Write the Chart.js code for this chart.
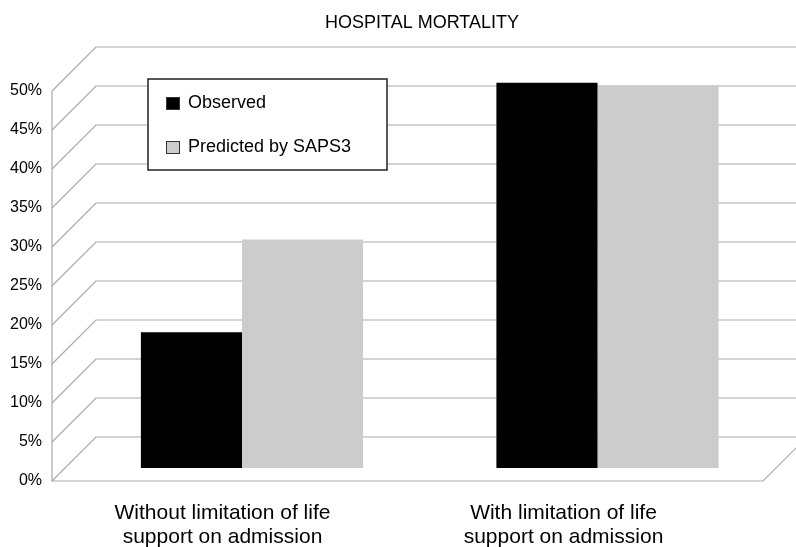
<!DOCTYPE html>
<html>
<head>
<meta charset="utf-8">
<script src="https://cdn.jsdelivr.net/npm/chart.js@4.4.1/dist/chart.umd.min.js"></script>
<style>
  html, body { margin: 0; background: #fff; }
  #wrap { width: 796px; height: 547px; }
</style>
</head>
<body>
<div id="wrap"><canvas id="chart"></canvas></div>
<script>
// ================= DATA =================
const categories = [
  ["Without limitation of life", "support on admission"],
  ["With limitation of life", "support on admission"]
];
const seriesNames = ["Observed", "Predicted by SAPS3"];
const observed = [17.4, 49.4];
const predicted = [29.3, 49.0];
const yTickValues = [0, 5, 10, 15, 20, 25, 30, 35, 40, 45, 50];
const titleText = "HOSPITAL MORTALITY";

// ================= STYLE =================
const FONT = '"Liberation Sans", Arial, Helvetica, sans-serif';
const GRID = "#a9a9a9";
const DEPTH = 44;        // oblique depth of the walls
const BAR_SHIFT_X = 8;   // bars sit a bit behind the front edge
const BAR_SHIFT_Y = 13;
const FLOOR_EXT = 29;    // floor runs past the chart area on the right

const wallsPlugin = {
  id: "walls",
  beforeDatasetsDraw(chart) {
    const { ctx, chartArea: a, scales: { y } } = chart;
    ctx.save();
    ctx.strokeStyle = GRID;
    ctx.lineWidth = 1.2;
    y.ticks.forEach(t => {
      const py = y.getPixelForValue(t.value);
      ctx.beginPath();
      ctx.moveTo(a.left, py);
      ctx.lineTo(a.left + DEPTH, py - DEPTH);
      ctx.lineTo(chart.width + 20, py - DEPTH);
      ctx.stroke();
    });
    // front edges: left wall + floor
    ctx.beginPath();
    ctx.moveTo(a.left, a.top);
    ctx.lineTo(a.left, a.bottom);
    ctx.lineTo(a.right + FLOOR_EXT, a.bottom);
    ctx.lineTo(a.right + FLOOR_EXT + DEPTH, a.bottom - DEPTH);
    ctx.stroke();
    ctx.restore();

    ctx.save();
    ctx.translate(BAR_SHIFT_X, -BAR_SHIFT_Y);
  },
  afterDatasetsDraw(chart) {
    chart.ctx.restore();
  },
  afterDraw(chart) {
    const { ctx, chartArea: a } = chart;
    ctx.save();
    // title
    ctx.fillStyle = "#000";
    ctx.font = "18px " + FONT;
    ctx.textAlign = "center";
    ctx.textBaseline = "alphabetic";
    ctx.fillText(titleText, a.left + 370, 28);

    // legend box
    const bx = a.left + 96, by = a.top - 12, bw = 239, bh = 91;
    ctx.fillStyle = "#fff";
    ctx.fillRect(bx, by, bw, bh);
    ctx.strokeStyle = "#222";
    ctx.lineWidth = 1.5;
    ctx.strokeRect(bx, by, bw, bh);

    ctx.textAlign = "left";
    ctx.textBaseline = "middle";
    chart.data.datasets.forEach((ds, i) => {
      const iy = by + 18 + i * 44;
      ctx.fillStyle = ds.backgroundColor;
      ctx.fillRect(bx + 18, iy, 14, 13);
      ctx.strokeStyle = "#333";
      ctx.lineWidth = 1;
      ctx.strokeRect(bx + 18.5, iy + 0.5, 13, 12);
      ctx.fillStyle = "#000";
      ctx.fillText(ds.label, bx + 40, iy + 6);
    });
    ctx.restore();
  }
};

new Chart(document.getElementById("chart"), {
  type: "bar",
  data: {
    labels: categories,
    datasets: [
      {
        label: seriesNames[0],
        data: observed.map((v, i) => ({ x: i, y: v })),
        backgroundColor: "#000000",
        xAxisID: "xb",
        categoryPercentage: 0.625,
        barPercentage: 0.91,
        borderWidth: 0
      },
      {
        label: seriesNames[1],
        data: predicted.map((v, i) => ({ x: i, y: v })),
        backgroundColor: "#cccccc",
        xAxisID: "xb",
        categoryPercentage: 0.625,
        barPercentage: 1.09,
        borderWidth: 0
      }
    ]
  },
  options: {
    responsive: true,
    maintainAspectRatio: false,
    animation: false,
    layout: { padding: { top: 91, right: 62, bottom: 0, left: 0 } },
    plugins: {
      legend: { display: false },
      title: { display: false },
      tooltip: { enabled: false }
    },
    scales: {
      x: {
        type: "category",
        offset: true,
        grid: { display: false, drawTicks: false },
        border: { display: false },
        ticks: {
          color: "#000",
          font: { family: FONT, size: 21, lineHeight: 1.15 },
          padding: 20,
          maxRotation: 0,
          autoSkip: false
        },
        afterFit(s) { s.height = 66; }
      },
      xb: {
        type: "linear",
        position: "bottom",
        display: false,
        offset: false,
        grid: { offset: false },
        min: -0.526,
        max: 1.3924,
        afterBuildTicks(s) { s.ticks = categories.map((c, i) => ({ value: i })); }
      },
      y: {
        min: 0,
        max: 50,
        grid: { display: false, drawTicks: false },
        border: { display: false },
        ticks: {
          color: "#000",
          font: { family: FONT, size: 16 },
          padding: 10,
          callback: v => v + "%"
        },
        afterBuildTicks(s) { s.ticks = yTickValues.map(v => ({ value: v })); },
        afterFit(s) { s.width = 52; }
      }
    }
  },
  plugins: [wallsPlugin]
});
</script>
</body>
</html>
